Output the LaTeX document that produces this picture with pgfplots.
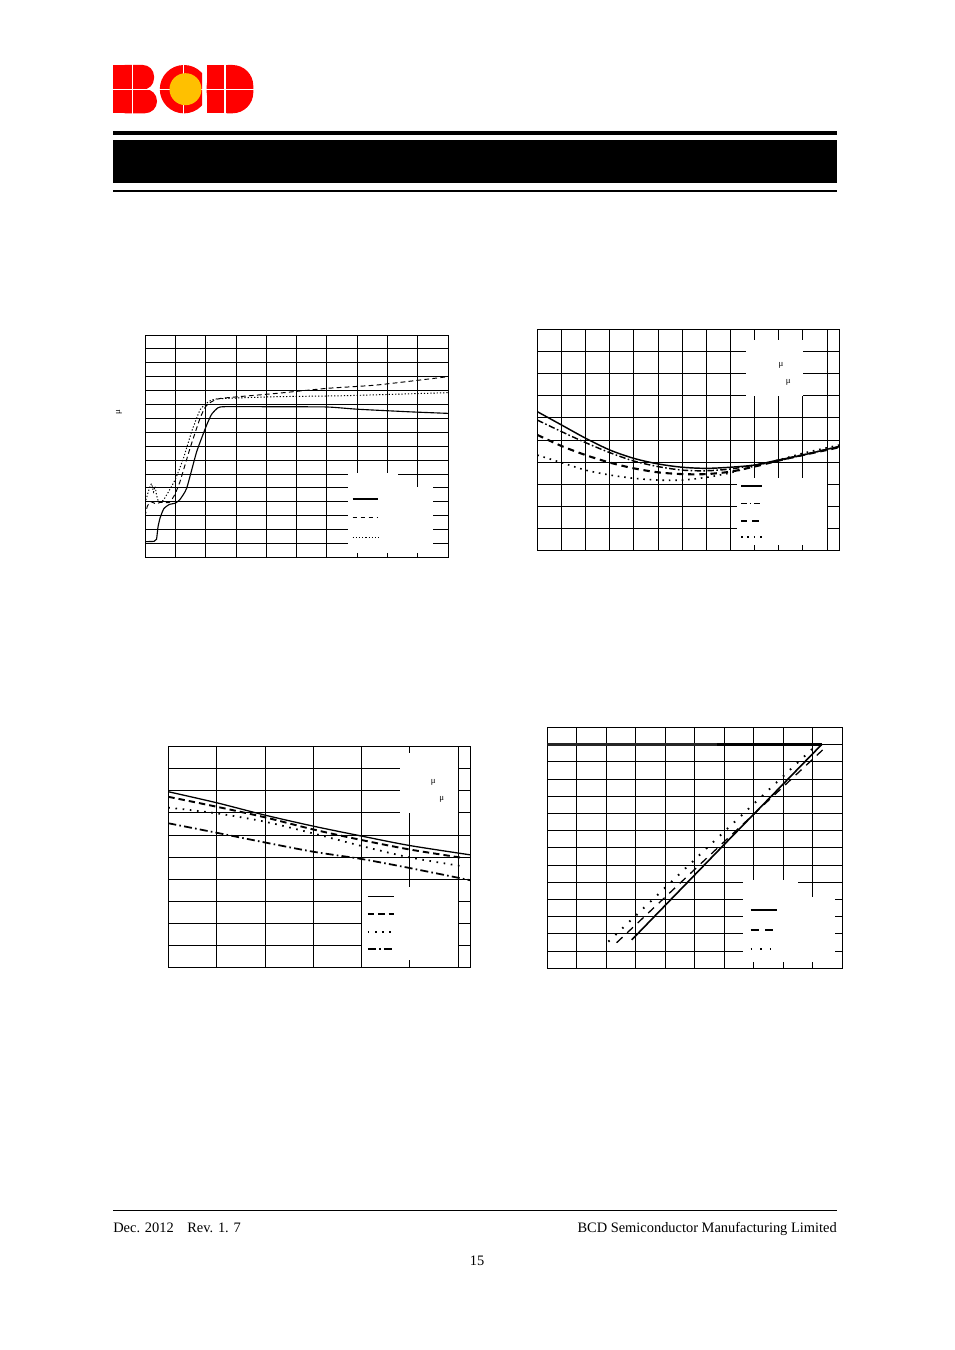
\documentclass[border=0pt]{standalone}
\usepackage{fontspec}
\setmainfont{Liberation Serif}
\usepackage{pgfplots}
\pgfplotsset{compat=1.18}
\definecolor{bcdred}{RGB}{255,0,0}
\definecolor{bcdyel}{RGB}{255,192,0}
\pgfplotsset{pg/.style={scale only axis, anchor=north west,
  axis line style={black,line width=0.55pt},
  grid=major, major grid style={black,line width=0.5pt},
  xticklabels={}, yticklabels={}, major tick length=0pt,
  every tick/.style={draw=none}, clip=true}}
\begin{document}
\begin{tikzpicture}
\begin{scope}[x=0.624pt,y=-0.624pt]
\fill[white] (0,0) rectangle (954,1350);
% logo B
\fill[bcdred, rounded corners=7pt] (113.3,65) rectangle (154,89.6);
\fill[bcdred] (113.3,65) rectangle (135,89.6);
\fill[bcdred, rounded corners=7.5pt] (113.3,89) rectangle (157,113.3);
\fill[bcdred] (113.3,89) rectangle (135,113.3);
% C
\begin{scope}
\clip (150,60) rectangle (202,120);
\fill[bcdred] (184,89.2) circle (24.2);
\end{scope}
% D
\fill[bcdred, rounded corners=13pt] (206.7,65) rectangle (253.3,113.3);
\fill[bcdred] (206.7,65) rectangle (230,113.3);
% white cross lines
\draw[white, line width=0.9pt] (132.3,62) -- (132.3,116);
\draw[white, line width=0.9pt] (183.3,62) -- (183.3,116);
\draw[white, line width=0.9pt] (225,62) -- (225,116);
\draw[white, line width=0.9pt] (110,89.3) -- (256,89.3);
\fill[bcdyel] (185.5,89.2) circle (16);
% header bars
\fill[black] (113,130.7) rectangle (837,135);
\fill[black] (113,140) rectangle (837,183.3);
\fill[black] (113,190) rectangle (837,191.7);
% footer
\draw[black, line width=0.6pt] (113,1210) -- (837,1210);
\node[anchor=base west, inner sep=0pt, font=\fontsize{9}{11}\selectfont] at (113,1232) {Dec. 2012};
\node[anchor=base west, inner sep=0pt, font=\fontsize{9}{11}\selectfont] at (187,1232) {Rev. 1. 7};
\node[anchor=base east, inner sep=0pt, font=\fontsize{9}{11}\selectfont] at (837,1232) {BCD Semiconductor Manufacturing Limited};
\node[anchor=base, inner sep=0pt, font=\fontsize{9}{11}\selectfont] at (477,1265) {15};
\end{scope}

% ---------- Plot 1 ----------
\begin{axis}[pg, at={(90.48pt,-209.04pt)}, width=189.07pt, height=138.72pt,
  xmin=0,xmax=10,ymin=0,ymax=16, xtick={0,...,10}, ytick={0,...,16}]
\fill[white] (axis cs:6.71,0.29) rectangle (axis cs:8.36,6.05);
\fill[white] (axis cs:6.71,0.29) rectangle (axis cs:9.50,5.08);
\addplot[black, line width=0.7pt, smooth, tension=0.3] coordinates {
(0,1.13) (0.3,1.15) (0.38,1.3) (0.43,2.2) (0.5,2.85) (0.62,3.5) (0.8,3.8) (1.0,3.9) (1.15,4.15) (1.375,4.97) (1.705,7.6) (2.035,9.52) (2.2,10.3) (2.4,10.75) (2.6,10.84) (4,10.84) (6.0,10.82) (7.0,10.66) (8.75,10.47) (10,10.36)};
\addplot[black, line width=0.6pt, dash pattern=on 3pt off 2pt, smooth, tension=0.3] coordinates {
(0,2.93) (0.08,3.7) (0.2,4.0) (0.35,3.85) (0.5,3.95) (0.8,3.95) (0.98,4.5) (1.155,5.45) (1.485,7.84) (1.815,10.0) (2.0,10.85) (2.2,11.2) (2.5,11.44) (4.35,11.8) (6.0,12.16) (7.65,12.4) (10,13.0)};
\addplot[black, line width=0.6pt, dash pattern=on 0.8pt off 1.2pt, smooth, tension=0.3] coordinates {
(0,3.9) (0.08,4.5) (0.15,5.0) (0.22,5.3) (0.28,4.7) (0.33,5.1) (0.38,4.5) (0.45,4.0) (0.6,4.1) (0.77,4.7) (0.99,5.56) (1.265,7.1) (1.54,9.05) (1.815,10.6) (2.035,11.1) (2.365,11.4) (4.35,11.56) (6.55,11.63) (10,11.85)};
\addplot[black, line width=0.7pt] coordinates {(6.85,4.2) (7.70,4.2)};
\addplot[black, line width=0.6pt, dash pattern=on 3pt off 2pt] coordinates {(6.85,2.85) (7.70,2.85)};
\addplot[black, line width=0.6pt, dash pattern=on 0.8pt off 1.2pt] coordinates {(6.85,1.44) (7.70,1.44)};
\end{axis}

% ---------- Plot 2 ----------
\begin{axis}[pg, at={(335.28pt,-205.48pt)}, width=188.26pt, height=138.15pt,
  xmin=0,xmax=12.5,ymin=0,ymax=10, xtick={0,...,12}, ytick={0,...,10}]
\fill[white] (axis cs:8.65,7.0) rectangle (axis cs:11.0,9.52);
\fill[white] (axis cs:8.26,0.26) rectangle (axis cs:12.01,3.28);
\addplot[black, line width=0.9pt, smooth] coordinates {
(0,6.28) (1,5.68) (2,5.08) (3,4.55) (4,4.17) (5,3.92) (6,3.77) (7,3.72) (8,3.77) (9,3.87) (10,4.10) (11,4.32) (12,4.58) (12.5,4.70)};
\addplot[black, line width=0.9pt, dash pattern=on 4pt off 1.5pt on 1pt off 1.5pt, smooth] coordinates {
(0,5.9) (1,5.38) (2,4.88) (3,4.43) (4,4.05) (5,3.80) (6,3.64) (7,3.61) (8,3.69) (9,3.87) (10,4.07) (11,4.32) (12,4.58) (12.5,4.70)};
\addplot[black, line width=1.3pt, dash pattern=on 4pt off 3pt, smooth] coordinates {
(0,5.23) (1,4.73) (2,4.32) (3,3.98) (4,3.72) (5,3.54) (6,3.46) (7,3.46) (8,3.57) (9,3.80) (10,4.07) (11,4.32) (12,4.55) (12.5,4.67)};
\addplot[black, line width=1pt, dash pattern=on 1pt off 3pt, smooth] coordinates {
(0,4.32) (1,3.98) (2,3.64) (3,3.42) (4,3.27) (5,3.19) (6,3.19) (7,3.31) (8,3.52) (9,3.83) (10,4.10) (11,4.40) (12,4.65) (12.5,4.77)};
\addplot[black, line width=0.9pt] coordinates {(8.44,2.92) (9.32,2.92)};
\addplot[black, line width=0.9pt, dash pattern=on 4pt off 1.5pt on 1pt off 1.5pt] coordinates {(8.44,2.14) (9.32,2.14)};
\addplot[black, line width=1.3pt, dash pattern=on 4pt off 3pt] coordinates {(8.44,1.36) (9.32,1.36)};
\addplot[black, line width=1pt, dash pattern=on 1pt off 3pt] coordinates {(8.44,0.61) (9.32,0.61)};
\end{axis}

% ---------- Plot 3 ----------
\begin{axis}[pg, at={(105.02pt,-465.94pt)}, width=188.26pt, height=137.65pt,
  xmin=0,xmax=6.246,ymin=0,ymax=10, xtick={0,...,6}, ytick={0,...,10}]
\fill[white] (axis cs:4.80,7.01) rectangle (axis cs:6.0,9.70);
\fill[white] (axis cs:4.0,0.33) rectangle (axis cs:6.0,3.65);
\addplot[black, line width=0.8pt, smooth] coordinates {
(0,7.96) (1,7.46) (2,6.90) (3,6.40) (4,5.95) (5,5.52) (6.246,5.10)};
\addplot[black, line width=1.2pt, dash pattern=on 4pt off 2.5pt, smooth] coordinates {
(0,7.73) (1,7.28) (2,6.80) (3,6.25) (4,5.77) (5,5.34) (6.07,4.97)};
\addplot[black, line width=1.1pt, dash pattern=on 1pt off 3.5pt, smooth] coordinates {
(0,7.24) (1,6.98) (2,6.60) (3,6.07) (4,5.50) (5,4.98) (6.1,4.58)};
\addplot[black, line width=1.1pt, dash pattern=on 5pt off 2pt on 1pt off 2pt, smooth] coordinates {
(0,6.53) (1,6.10) (2,5.66) (3,5.24) (4,4.91) (5,4.50) (6.246,3.95)};
\addplot[black, line width=0.8pt] coordinates {(4.13,3.2) (4.67,3.2)};
\addplot[black, line width=1.2pt, dash pattern=on 4pt off 2.5pt] coordinates {(4.13,2.42) (4.67,2.42)};
\addplot[black, line width=1.1pt, dash pattern=on 1pt off 3.5pt] coordinates {(4.13,1.61) (4.67,1.61)};
\addplot[black, line width=1.1pt, dash pattern=on 5pt off 2pt on 1pt off 2pt] coordinates {(4.13,0.83) (4.67,0.83)};
\end{axis}

% ---------- Plot 4 ----------
\begin{axis}[pg, at={(341.52pt,-453.84pt)}, width=184.08pt, height=150.38pt,
  xmin=0,xmax=10,ymin=0,ymax=14, xtick={0,...,10}, ytick={0,...,14}]
\fill[white] (axis cs:6.63,0.37) rectangle (axis cs:8.49,5.13);
\fill[white] (axis cs:6.63,0.37) rectangle (axis cs:9.75,4.15);
\addplot[black!85, line width=1.3pt] coordinates {(0,13) (5.74,13)};
\addplot[black, line width=1.3pt] coordinates {(5.74,13) (9.30,13)};
\addplot[black, line width=1pt] coordinates {(2.86,1.65) (6.0,7.2) (9.30,13)};
\addplot[black, line width=0.8pt, dash pattern=on 5pt off 4pt] coordinates {(2.35,1.49) (5.9,7.2) (9.36,12.73)};
\addplot[black, line width=1.2pt, dash pattern=on 1pt off 5pt] coordinates {(2.07,1.55) (5.6,7.3) (9.07,12.89)};
\addplot[black, line width=1.5pt] coordinates {(6.89,3.39) (7.78,3.39)};
\addplot[black, line width=0.8pt, dash pattern=on 5pt off 4pt] coordinates {(6.89,2.23) (7.64,2.23)};
\addplot[black, line width=1.2pt, dash pattern=on 1pt off 5pt] coordinates {(6.89,1.12) (7.58,1.12)};
\end{axis}

\begin{scope}[x=0.624pt,y=-0.624pt]
\node[rotate=90, inner sep=0pt, font=\fontsize{5.5}{6}\selectfont] at (119,412) {μ};
\node[inner sep=0pt, font=\fontsize{5.5}{6}\selectfont] at (781,365.7) {μ};
\node[inner sep=0pt, font=\fontsize{5.5}{6}\selectfont] at (788.3,382.3) {μ};
\node[inner sep=0pt, font=\fontsize{5.5}{6}\selectfont] at (433.3,782.3) {μ};
\node[inner sep=0pt, font=\fontsize{5.5}{6}\selectfont] at (441.7,799.3) {μ};
\end{scope}
\end{tikzpicture}
\end{document}
